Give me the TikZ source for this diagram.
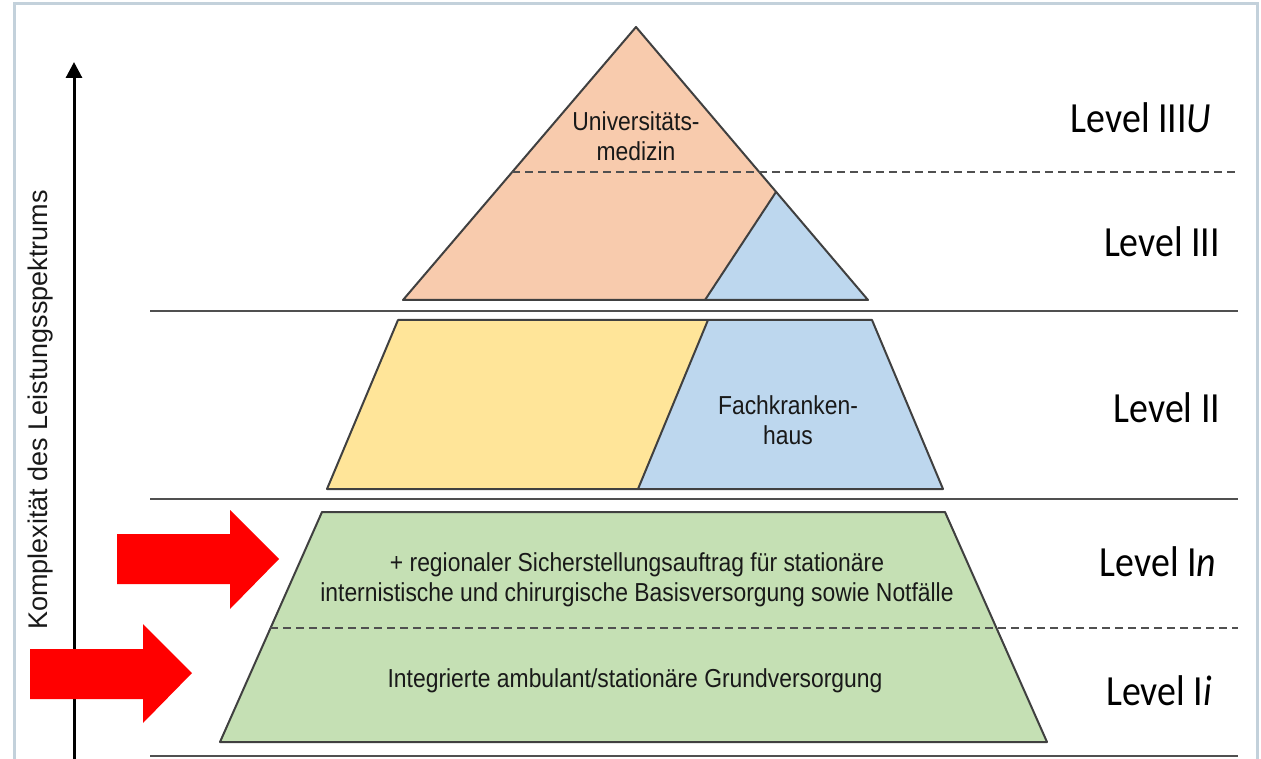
\documentclass[tikz,border=0pt]{standalone}
\usepackage{fontspec}
\setmainfont{Liberation Sans}
\newfontfamily\bodyfont[FakeStretch=0.88]{Liberation Sans}
\newfontfamily\levelfont[FakeStretch=0.88]{Carlito}
\usetikzlibrary{arrows.meta}

\definecolor{uniorange}{HTML}{F8CBAD}
\definecolor{fachblue}{HTML}{BDD7EE}
\definecolor{grundyellow}{HTML}{FFE599}
\definecolor{basisgreen}{HTML}{C5E0B4}
\definecolor{rahmen}{HTML}{C3D1DB}
\definecolor{linie}{HTML}{505050}

\tikzset{
  body/.style={font=\bodyfont\fontsize{26}{30}\selectfont, align=center, text=black!90},
  level/.style={font=\levelfont\fontsize{43}{48}\selectfont},
  outline/.style={draw=black!75, line width=2pt, line join=round},
  sep/.style={draw=linie, line width=2pt},
  sepdash/.style={draw=linie, line width=1.6pt, dash pattern=on 8pt off 5pt},
}

\begin{document}
\begin{tikzpicture}[x=1pt, y=-1pt]
    \useasboundingbox (0,0) rectangle (1261,759);
    % Rahmen
    \draw[rahmen, line width=3pt] (14,770) -- (14,4) -- (1257,4) -- (1257,770);

    % Level III / IIIU
    \fill[uniorange] (636,27) -- (868,300) -- (403,300) -- cycle;
    \fill[fachblue] (776,192) -- (868,300) -- (705,300) -- cycle;
    \draw[outline] (636,27) -- (868,300) -- (403,300) -- cycle;
    \draw[outline] (776,192) -- (705,300);

    % Level II
    \fill[grundyellow] (398,320) -- (708,320) -- (638,489) -- (327,489) -- cycle;
    \fill[fachblue] (708,320) -- (872,320) -- (943,489) -- (638,489) -- cycle;
    \draw[outline] (398,320) -- (872,320) -- (943,489) -- (327,489) -- cycle;
    \draw[outline] (708,320) -- (638,489);

    % Level I
    \filldraw[outline, fill=basisgreen] (322,512) -- (945,512) -- (1047,742) -- (220,742) -- cycle;

    % Trennlinien
    \draw[sep] (150,311) -- (1238,311);
    \draw[sep] (150,499) -- (1238,499);
    \draw[sep] (150,756) -- (1238,756);
    \draw[sepdash] (512,172) -- (1238,172);
    \draw[sepdash] (270,628) -- (1238,628);

    % Texte
    \node[body] (uni) at (636,136) {Universitäts-\\medizin};
    \node[body] (fach) at (788,420) {Fachkranken-\\haus};
    \node[body] (regional) at (637,580) {+ regionaler Sicherstellungsauftrag für stationäre\\internistische und chirurgische Basisversorgung sowie Notfälle};
    \node[body] (grund) at (635,681) {Integrierte ambulant/stationäre Grundversorgung};

    \node[level] (lvIIIU) at (1141,118) {Level III\textit{U}};
    \node[level] (lvIII) at (1162,242) {Level III};
    \node[level] (lvII) at (1167,408) {Level II};
    \node[level] (lvIn) at (1158,562) {Level I\textit{n}};
    \node[level] (lvIi) at (1159,691) {Level I\textit{i}};

    % Achse
    \coordinate (achseunten) at (74,759);
    \coordinate (achseoben) at (74,62);
    \draw[line width=3pt, -{Triangle[width=16pt,length=16pt]}] (achseunten) -- (achseoben);
    \node[rotate=90, font=\fontsize{27}{30}\selectfont, text=black!90] (achse) at (41,410) {Komplexität des Leistungsspektrums};

    % rote Pfeile
    \fill[red] (117,534) -- (230,534) -- (230,510) -- (279,559) -- (230,609) -- (230,584) -- (117,584) -- cycle;
    \fill[red] (30,649) -- (143,649) -- (143,624) -- (192,673) -- (143,723) -- (143,699) -- (30,699) -- cycle;
\end{tikzpicture}
\end{document}
